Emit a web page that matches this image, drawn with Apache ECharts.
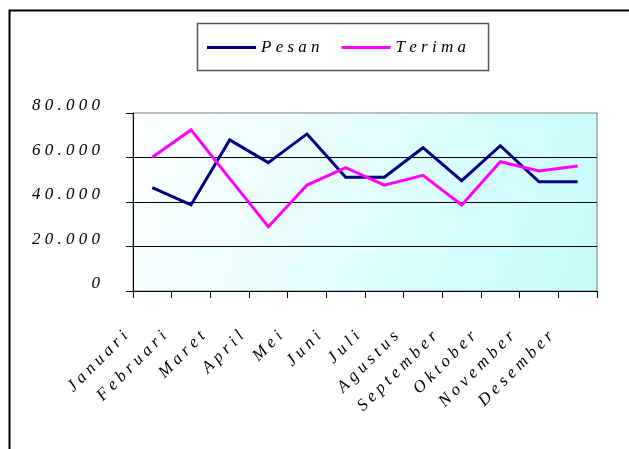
<!DOCTYPE html>
<html>
<head>
<meta charset="utf-8">
<script src="https://cdn.jsdelivr.net/npm/echarts@6/dist/echarts.min.js"></script>
<style>
  html, body { margin: 0; padding: 0; background: #ffffff; }
  #chart { width: 629px; height: 449px; }
</style>
</head>
<body>
<div id="chart"></div>
<script>
// Monthly order (Pesan) and receipt (Terima) figures
const months = ['Januari', 'Februari', 'Maret', 'April', 'Mei', 'Juni',
                'Juli', 'Agustus', 'September', 'Oktober', 'November', 'Desember'];
const pesan  = [46500, 38700, 67900, 57700, 70600, 51100, 51100, 64400, 49600, 65300, 49100, 49100];
const terima = [60100, 72400, 50500, 28900, 47600, 55400, 47600, 52000, 38700, 58100, 53900, 56200];
const seriesNames = ['Pesan', 'Terima'];

// Value axis ticks and their printed labels
const yTickValues = [0, 20000, 40000, 60000, 80000];
const yTickLabels = ['0', '20.000', '40.000', '60.000', '80.000'];

// Wide letter spacing used throughout the chart's text
const spaced = s => String(s).split('').join(' ');

const FONT = 'Liberation Serif';
const textBase = { fontFamily: FONT, fontStyle: 'italic', fontSize: 17, color: '#000000' };

const chart = echarts.init(document.getElementById('chart'), null, { renderer: 'canvas' });

chart.setOption({
  animation: false,
  backgroundColor: '#ffffff',
  grid: {
    left: 133, right: 32, top: 113, bottom: 158,
    show: true,
    borderColor: '#808080',
    borderWidth: 1,
    backgroundColor: {
      type: 'linear', x: 0, y: 0, x2: 1, y2: 1,
      colorStops: [
        { offset: 0, color: '#ffffff' },
        { offset: 1, color: '#c4fcfc' }
      ]
    }
  },
  legend: {
    data: seriesNames,
    left: 207,
    top: 39,
    padding: 0,
    icon: 'rect',
    itemWidth: 49,
    itemHeight: 3,
    itemGap: 22,
    formatter: name => spaced(name),
    textStyle: Object.assign({}, textBase, { padding: [0, 0, 8, 0] })
  },
  xAxis: {
    type: 'category',
    data: months,
    boundaryGap: true,
    axisLine: { lineStyle: { color: '#000000', width: 1 } },
    axisTick: { show: true, length: 7, alignWithLabel: false, lineStyle: { color: '#000000' } },
    axisLabel: Object.assign({}, textBase, {
      interval: 0,
      rotate: 45,
      margin: 16,
      padding: [0, 38, 0, 0],
      formatter: v => spaced(v)
    }),
    splitLine: { show: false }
  },
  yAxis: {
    type: 'value',
    min: yTickValues[0],
    max: yTickValues[yTickValues.length - 1],
    interval: yTickValues[1] - yTickValues[0],
    axisLine: { show: true, lineStyle: { color: '#000000', width: 1 } },
    axisTick: { show: true, length: 7, inside: false, lineStyle: { color: '#000000' } },
    axisLabel: Object.assign({}, textBase, {
      margin: 33,
      verticalAlign: 'bottom',
      lineHeight: 14,
      formatter: v => spaced(yTickLabels[yTickValues.indexOf(v)])
    }),
    splitLine: { show: true, showMaxLine: false, lineStyle: { color: '#000000', width: 1 } }
  },
  series: [
    {
      name: seriesNames[0],
      type: 'line',
      data: pesan,
      color: '#000080',
      symbol: 'none',
      lineStyle: { color: '#000080', width: 3, join: 'miter', cap: 'butt' }
    },
    {
      name: seriesNames[1],
      type: 'line',
      data: terima,
      color: '#ff00ff',
      symbol: 'none',
      lineStyle: { color: '#ff00ff', width: 3, join: 'miter', cap: 'butt' }
    }
  ],
  graphic: [
    // outer chart frame (top and left edges)
    {
      type: 'polyline',
      silent: true,
      shape: { points: [[9.5, 449], [9.5, 10.5], [629, 10.5]] },
      style: { stroke: '#000000', lineWidth: 2, fill: null }
    },
    // legend box
    {
      type: 'rect',
      silent: true,
      shape: { x: 197.5, y: 23.5, width: 291, height: 47 },
      style: { stroke: '#555555', lineWidth: 1.5, fill: null }
    }
  ]
});
</script>
</body>
</html>
